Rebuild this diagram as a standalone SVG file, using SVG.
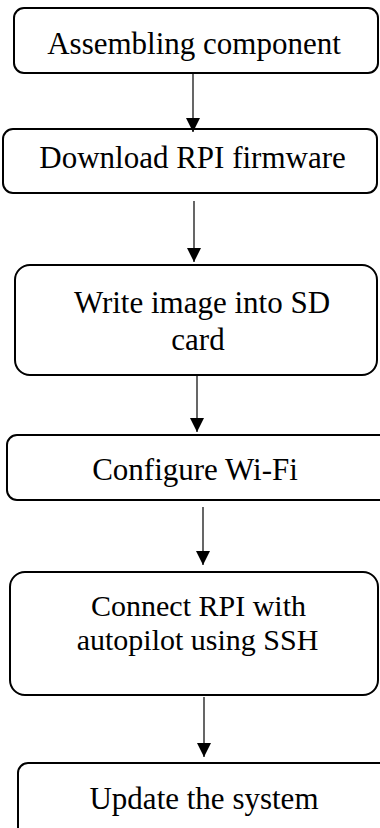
<svg xmlns="http://www.w3.org/2000/svg" width="380" height="828" viewBox="0 0 380 828">
<style>
.box{fill:#fff;stroke:#000;stroke-width:2}
.t{font-family:"Liberation Serif","Times New Roman",serif;font-size:31px;fill:#000;text-anchor:middle}
.c{stroke:#000;stroke-width:1.2;fill:none}
</style>
<defs>
<marker id="ah" markerWidth="14" markerHeight="14" refX="14" refY="7" orient="auto" markerUnits="userSpaceOnUse">
<path d="M0,0 L14,7 L0,14 Z" fill="#000"/>
</marker>
</defs>
<rect width="380" height="828" fill="#fff"/>
<g id="n1"><rect class="box" x="14" y="8" width="364" height="65" rx="10"/><text class="t" x="194" y="53.5">Assembling component</text></g>
<g id="n2"><rect class="box" x="3" y="129" width="374" height="64" rx="10"/><text class="t" x="192.5" y="168">Download RPI firmware</text></g>
<g id="n3"><rect class="box" x="15" y="265" width="362" height="110" rx="15"/><text class="t" x="202" y="313">Write image into SD</text><text class="t" x="198" y="350">card</text></g>
<g id="n4"><rect class="box" x="7" y="435" width="390" height="65" rx="10"/><text class="t" x="195" y="480">Configure Wi-Fi</text></g>
<g id="n5"><rect class="box" x="10" y="572" width="368" height="123" rx="15"/><text class="t" x="198.5" y="616" style="font-size:30px">Connect RPI with</text><text class="t" x="197.5" y="650" style="font-size:30px">autopilot using SSH</text></g>
<g id="n6"><rect class="box" x="18" y="763" width="380" height="90" rx="10"/><text class="t" x="204" y="809">Update the system</text></g>
<g id="connectors">
<line class="c" x1="193" y1="74" x2="193" y2="132" marker-end="url(#ah)"/>
<line class="c" x1="194" y1="201" x2="194" y2="262" marker-end="url(#ah)"/>
<line class="c" x1="197" y1="376" x2="197" y2="432" marker-end="url(#ah)"/>
<line class="c" x1="203" y1="507" x2="203" y2="565" marker-end="url(#ah)"/>
<line class="c" x1="204" y1="697" x2="204" y2="757" marker-end="url(#ah)"/>
</g>
</svg>
